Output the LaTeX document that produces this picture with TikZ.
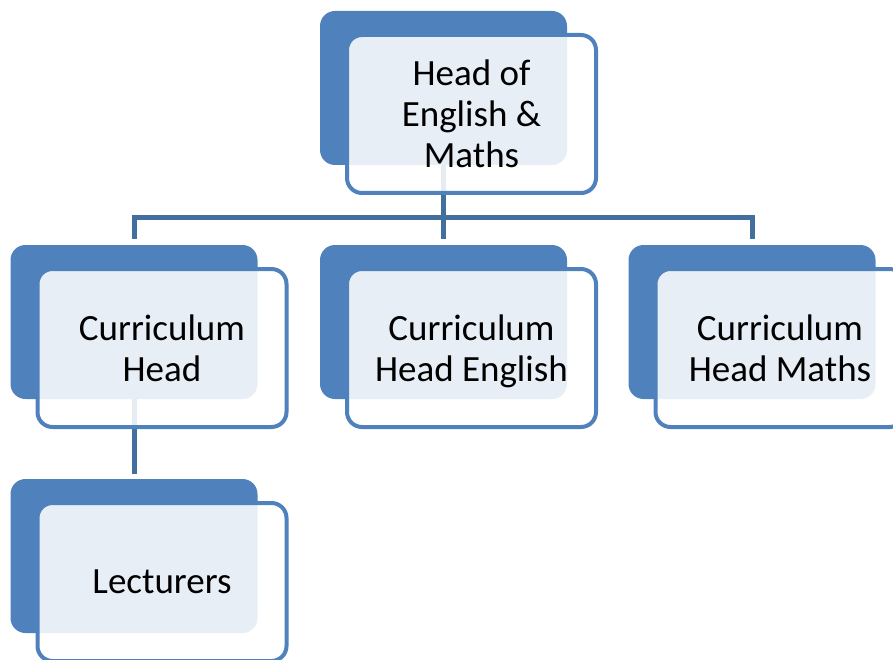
\documentclass[tikz,border=0pt]{standalone}
\usepackage{fontspec}
\setmainfont{Carlito}
\definecolor{backblue}{HTML}{4F81BD}
\definecolor{connblue}{HTML}{41709F}
\begin{document}
\begin{tikzpicture}[x=1pt,y=-1pt,
  backbox/.style={fill=backblue, draw=none, rounded corners=15pt, minimum width=247pt, minimum height=154pt, inner sep=0pt},
  frontbox/.style={draw=backblue, line width=4pt, fill=white, fill opacity=0.87, text opacity=1, rounded corners=15pt, minimum width=249pt, minimum height=158pt, inner sep=0pt, align=center, text depth=0pt, font=\fontsize{37}{41}\selectfont},
  conn/.style={draw=connblue, line width=5pt}]
\useasboundingbox (0,0) rectangle (893,660);
% back boxes
\node[backbox] (topb) at (443.5,88) {};
\node[backbox] (c1b) at (134,322) {};
\node[backbox] (c2b) at (443.5,322) {};
\node[backbox] (c3b) at (752,322) {};
\node[backbox] (lectb) at (134,556) {};
% connectors
\coordinate (bus) at (443.5,218);
\draw[conn] (topb.south) -- (bus);
\draw[conn, shorten >=6pt] (bus) -| (c1b.north);
\draw[conn, shorten >=6pt] (bus) -- (c2b.north);
\draw[conn, shorten >=6pt] (bus) -| (c3b.north);
\draw[conn, shorten >=5pt] (c1b.south) -- (lectb.north);
% front boxes
\node[frontbox] (top) at (471.5,114) {Head of\\English \&\\Maths};
\node[frontbox] (c1) at (162,348) {Curriculum\\Head};
\node[frontbox] (c2) at (471.5,348) {Curriculum\\Head English};
\node[frontbox] (c3) at (780,348) {Curriculum\\Head Maths};
\node[frontbox] (lect) at (162,582) {Lecturers};
\end{tikzpicture}
\end{document}
